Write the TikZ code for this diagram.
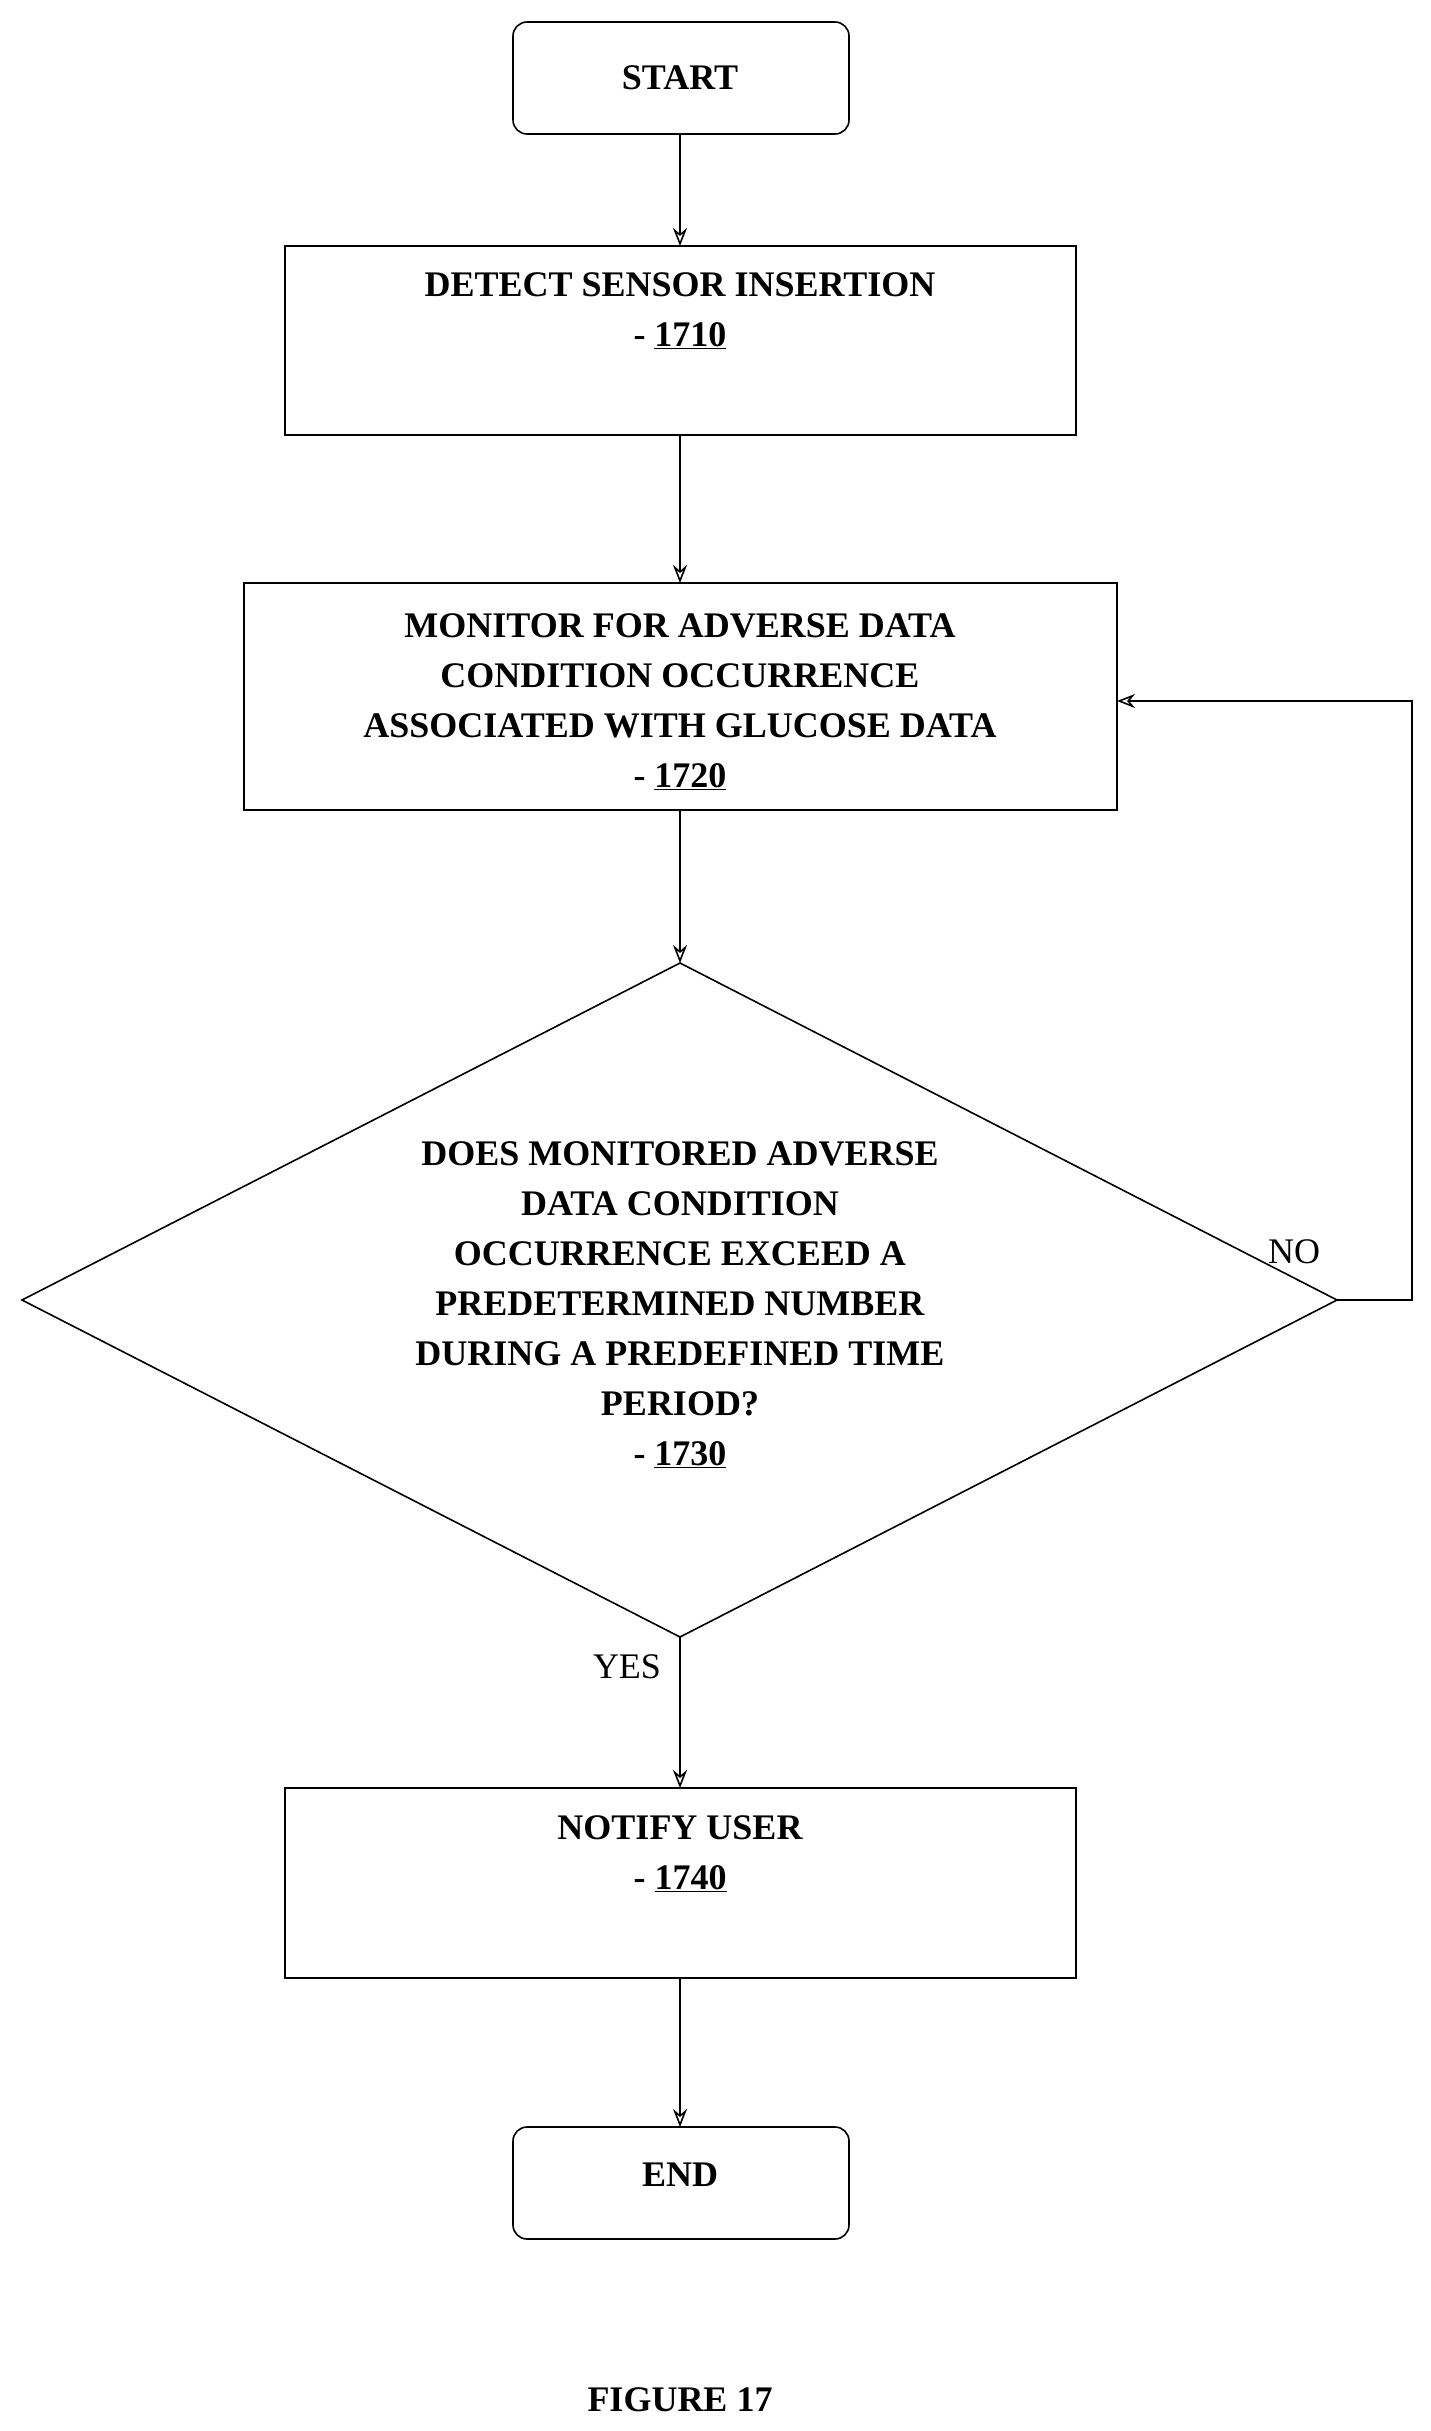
\documentclass[tikz,border=0pt]{standalone}
\usepackage{fontspec}
\setmainfont{Liberation Serif}
\usetikzlibrary{arrows.meta}
\begin{document}
\begin{tikzpicture}[x=1pt,y=-1pt,
  box/.style={draw,line width=1.6pt},
  txt/.style={font=\fontsize{36}{50}\selectfont\bfseries,align=center,inner sep=0pt},
  lbl/.style={font=\fontsize{36}{44}\selectfont,inner sep=0pt},
  arr/.style={line width=1.6pt,-{Stealth[length=18pt,width=14pt,open]}}]
\useasboundingbox (0,0) rectangle (1431,2431);
\draw[box,rounded corners=14pt] (513,22) rectangle (849,134);
\node[txt] (start) at (680,78) {START};
\draw[box] (285,246) rectangle (1076,435);
\node[txt,anchor=north] (t1710) at (680,272) {DETECT SENSOR INSERTION\\- \underline{1710}};
\draw[box] (244,583) rectangle (1117,810);
\node[txt,anchor=north] (t1720) at (680,613) {MONITOR FOR ADVERSE DATA\\CONDITION OCCURRENCE\\ASSOCIATED WITH GLUCOSE DATA\\- \underline{1720}};
\draw[box] (680,963) -- (1337,1300) -- (680,1637) -- (22,1300) -- cycle;
\node[txt,anchor=north] (t1730) at (680,1141) {DOES MONITORED ADVERSE\\DATA CONDITION\\OCCURRENCE EXCEED A\\PREDETERMINED NUMBER\\DURING A PREDEFINED TIME\\PERIOD?\\- \underline{1730}};
\draw[box] (285,1788) rectangle (1076,1978);
\node[txt,anchor=north] (t1740) at (680,1815) {NOTIFY USER\\- \underline{1740}};
\draw[box,rounded corners=14pt] (513,2127) rectangle (849,2239);
\node[txt] (end) at (680,2175) {END};
\node[lbl] (no) at (1294,1252) {NO};
\node[lbl] (yes) at (627,1667) {YES};
\node[txt] (fig) at (680,2400) {FIGURE 17};
\coordinate (a1) at (680,134); \coordinate (a2) at (680,246);
\coordinate (b1) at (680,435); \coordinate (b2) at (680,583);
\coordinate (c1) at (680,810); \coordinate (c2) at (680,963);
\coordinate (d1) at (680,1637); \coordinate (d2) at (680,1788);
\coordinate (e1) at (680,1978); \coordinate (e2) at (680,2127);
\coordinate (r) at (1337,1300); \coordinate (m) at (1117,701);
\draw[arr] (a1) -- (a2);
\draw[arr] (b1) -- (b2);
\draw[arr] (c1) -- (c2);
\draw[arr] (d1) -- (d2);
\draw[arr] (e1) -- (e2);
\draw[arr] (r) -- (1412,1300) -- (1412,701) -- (m);
\end{tikzpicture}
\end{document}
